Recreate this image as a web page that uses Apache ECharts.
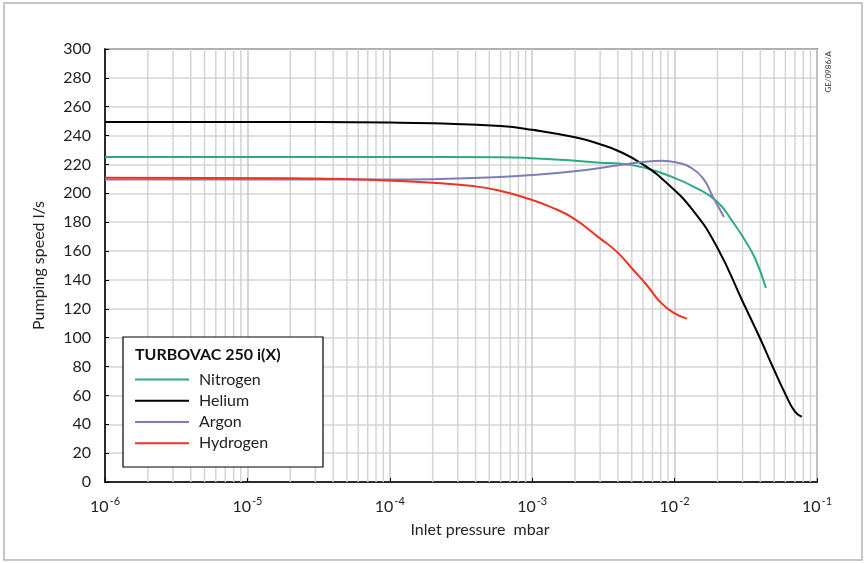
<!DOCTYPE html>
<html>
<head>
<meta charset="utf-8">
<script src="https://cdn.jsdelivr.net/npm/echarts@6/dist/echarts.min.js"></script>
<style>
  html, body { margin: 0; padding: 0; background: #fff; }
  #chart { width: 867px; height: 563px; }
</style>
</head>
<body>
<div id="chart"></div>
<script>
// curves: [pressure mbar, speed l/s]
const nitrogen = [[1e-6, 225.2], [1e-4, 225.2], [6e-4, 225], [1e-3, 224.3], [2e-3, 222.6], [3e-3, 221.2],
  [4.1e-3, 220.6], [6e-3, 218], [8.85e-3, 212.7], [1.4e-2, 204], [2e-2, 194], [2.57e-2, 180],
  [3.02e-2, 169.7], [3.67e-2, 155], [4.38e-2, 134.4]];
const helium = [[1e-6, 249.5], [1e-5, 249.5], [1e-4, 249], [2e-4, 248.5], [6e-4, 246.6], [1e-3, 244],
  [2e-3, 238.8], [3e-3, 234], [4.1e-3, 229], [6e-3, 220], [8.85e-3, 207], [1.35e-2, 188], [1.98e-2, 163],
  [3.04e-2, 124], [3.98e-2, 99.6], [4.94e-2, 78.8], [6.12e-2, 59.1], [7e-2, 48.7], [7.8e-2, 45.2]];
const argon = [[1e-6, 209.5], [1e-4, 209.5], [2e-4, 209.8], [3.84e-4, 210.6], [1e-3, 212.7], [2.06e-3, 215.5],
  [4.14e-3, 219.6], [6e-3, 221.7], [8.2e-3, 222.6], [1.09e-2, 220.8], [1.28e-2, 218.2], [1.58e-2, 210.6],
  [1.86e-2, 197.5], [2.22e-2, 183.6]];
const hydrogen = [[1e-6, 210.8], [2e-5, 210.4], [8e-5, 209.2], [2e-4, 207.4], [3.84e-4, 205], [5.94e-4, 201.8],
  [9.66e-4, 195.9], [1.33e-3, 190.8], [1.95e-3, 182.7], [2.99e-3, 168.8], [3.92e-3, 159.6], [5.13e-3, 146.9],
  [6.37e-3, 136.5], [7.89e-3, 124.9], [9.79e-3, 117.3], [1.22e-2, 113.2]];

const seriesNames = ["Nitrogen", "Helium", "Argon", "Hydrogen"];
const seriesColors = ["#2eaa80", "#000000", "#7b7fb3", "#ee3322"];
const decades = [-6, -5, -4, -3, -2];
const minorSteps = [2, 3, 4, 5, 6, 7, 8, 9];

// minor log grid lines 2..9 in every decade, drawn as broken line segments
let minorLines = [];
decades.forEach((d) => {
  minorSteps.forEach((m) => {
    let x = m * Math.pow(10, d);
    minorLines.push([x, 0], [x, 300], [x, null]);
  });
});

const font = "Lato, 'Open Sans', sans-serif";
let chart = echarts.init(document.getElementById("chart"));

let lines = [nitrogen, helium, argon, hydrogen].map((d, i) => ({
  name: seriesNames[i],
  type: "line",
  data: d,
  smooth: 0.5,
  symbol: "none",
  color: seriesColors[i],
  lineStyle: { width: 2, color: seriesColors[i] },
  z: 3,
}));

chart.setOption({
  animation: false,
  grid: {
    left: 105,
    top: 49,
    width: 712,
    height: 433,
    show: true,
    borderColor: "#000",
    borderWidth: 1.5,
  },
  xAxis: {
    type: "log",
    logBase: 10,
    min: 1e-6,
    max: 1e-1,
    name: "Inlet pressure  mbar",
    nameLocation: "middle",
    nameGap: 40,
    nameTextStyle: { fontFamily: font, fontSize: 16, color: "#222", padding: [0, 0, 0, 38] },
    axisLine: { lineStyle: { color: "#000", width: 1.5 } },
    axisTick: { inside: true, length: 4, lineStyle: { color: "#000" } },
    splitLine: { show: true, lineStyle: { color: "#c8c8c8", width: 1.5 } },
    axisLabel: {
      margin: 14,
      formatter: (v) => "{b|10}{s|" + Math.round(Math.log10(v)) + "}",
      rich: {
        b: { fontFamily: font, fontSize: 16, color: "#222", lineHeight: 22 },
        s: { fontFamily: font, fontSize: 11, color: "#222", lineHeight: 12, verticalAlign: "top", padding: [0, 0, 0, 1] },
      },
    },
  },
  yAxis: {
    type: "value",
    min: 0,
    max: 300,
    interval: 20,
    name: "Pumping speed l/s",
    nameLocation: "middle",
    nameGap: 58,
    nameTextStyle: { fontFamily: font, fontSize: 16, color: "#222" },
    axisLine: { show: true, lineStyle: { color: "#000", width: 1.5 } },
    axisTick: { show: true, inside: true, length: 4, lineStyle: { color: "#000" } },
    splitLine: { lineStyle: { color: "#d4d4d4", width: 1.5 } },
    axisLabel: { fontFamily: font, fontSize: 16, color: "#222", margin: 14 },
  },
  legend: {
    data: seriesNames,
    orient: "vertical",
    left: 130,
    top: 364,
    z: 8,
    itemWidth: 54,
    itemHeight: 2,
    itemGap: 0,
    icon: "rect",
    textStyle: { fontFamily: font, fontSize: 16, color: "#222", lineHeight: 21.2, padding: [0, 0, 0, 5] },
  },
  graphic: [
    {
      type: "rect",
      shape: { x: 4, y: 3, width: 858, height: 557 },
      style: { fill: "none", stroke: "#b4b4b4", lineWidth: 1.5 },
      z: 0,
      silent: true,
    },
    {
      type: "rect",
      shape: { x: 123, y: 337, width: 200, height: 130 },
      style: { fill: "#fff", stroke: "#000", lineWidth: 1.2 },
      z: 5,
      silent: true,
    },
    {
      type: "text",
      x: 135,
      y: 355,
      style: { text: "TURBOVAC 250 i(X)", fontFamily: font, fontSize: 16, fontWeight: "bold", fill: "#111", verticalAlign: "middle" },
      z: 9,
    },
    {
      type: "text",
      x: 828,
      y: 72,
      rotation: Math.PI / 2,
      style: { text: "GE/0986/A", fontFamily: font, fontSize: 8, fill: "#333", align: "center", verticalAlign: "middle" },
      z: 9,
    },
  ],
  series: [
    {
      name: "minor",
      type: "line",
      data: minorLines,
      connectNulls: false,
      symbol: "none",
      silent: true,
      z: 1,
      lineStyle: { color: "#d4d4d4", width: 1.5 },
    },
  ].concat(lines),
});
</script>
</body>
</html>
